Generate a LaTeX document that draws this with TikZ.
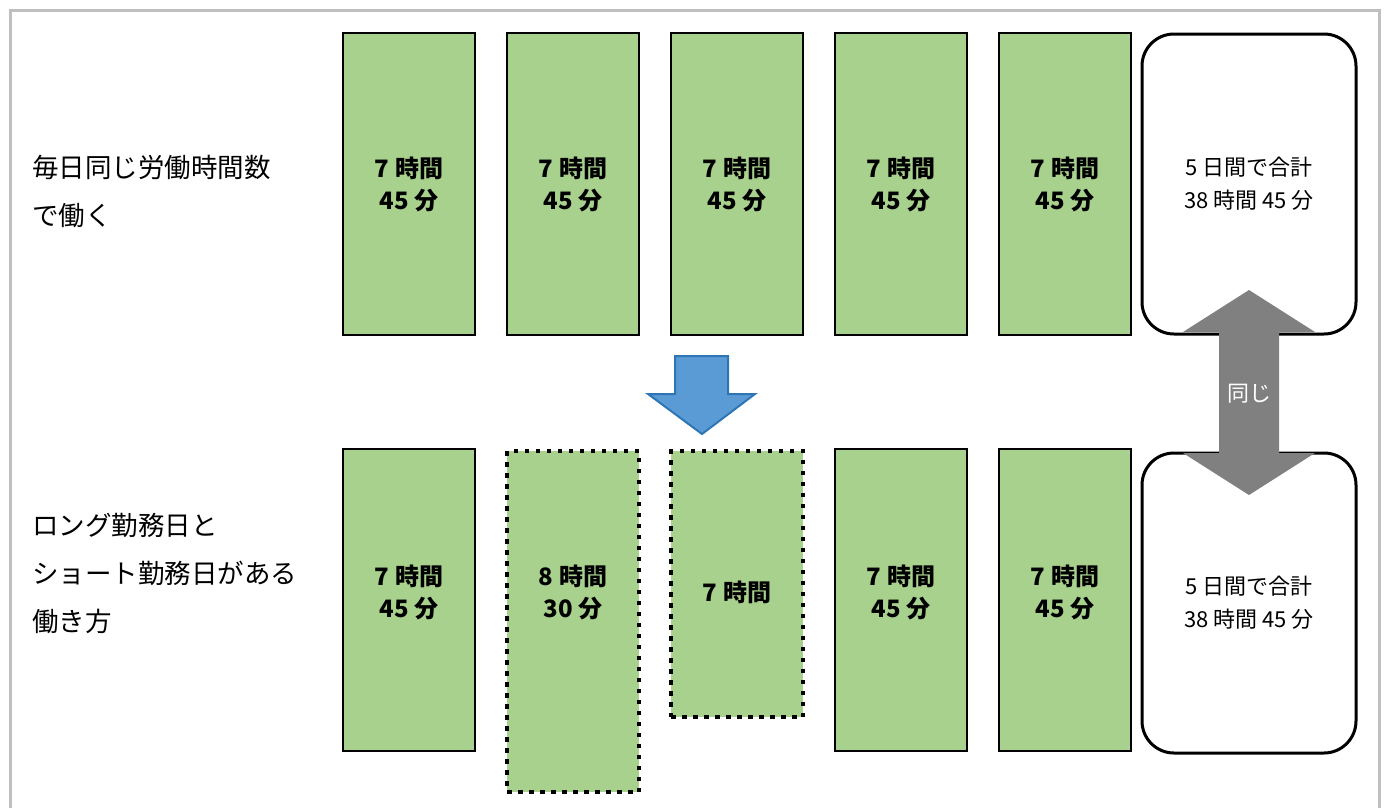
\documentclass[tikz,border=0pt]{standalone}
\usepackage{fontspec}
\setmainfont{Noto Sans CJK JP}
\usepackage{tikz}
\usetikzlibrary{positioning, calc}
\definecolor{daygreen}{RGB}{169, 209, 142}
\definecolor{arrowblue}{RGB}{91, 155, 213}
\definecolor{arrowedge}{RGB}{46, 117, 182}
\definecolor{samegray}{RGB}{128, 128, 128}
\definecolor{framegray}{RGB}{191, 191, 191}
\tikzset{
  daybox/.style={
    rectangle, inner sep=0pt, outer sep=0pt,
    minimum width=132pt, minimum height=302pt,
    align=center, font=\fontsize{24}{32}\selectfont\bfseries,
    draw=black, fill=daygreen, line width=2.5pt
  },
  changedbox/.style={
    daybox, line width=4.5pt, dash pattern=on 4.5pt off 6.5pt
  },
  daytext/.style={
    align=center, font=\fontsize{24}{32}\selectfont\bfseries
  },
  totalbox/.style={
    rectangle, rounded corners=32pt, inner sep=0pt, outer sep=0pt,
    minimum width=214pt, minimum height=300pt,
    align=center, font=\fontsize{22}{33}\selectfont,
    draw=black, fill=white, line width=3pt
  },
  rowlabel/.style={
    anchor=west, inner sep=0pt, align=left, font=\fontsize{26.5}{48}\selectfont
  },
  downarrow/.style={fill=arrowblue, draw=arrowedge, line width=2pt, line join=miter},
  samearrow/.style={fill=samegray}
}

\begin{document}
\begin{tikzpicture}[x=1pt, y=-1pt]

  \useasboundingbox (0,0) rectangle (1385,807);

  %% — — — Frame — — —
  \draw[framegray, line width=3pt] (10,830) -- (10,10) -- (1379,10) -- (1379,830);

  %% — — — Row labels — — —
  \node[rowlabel] (lab1) at (32,191) {毎日同じ労働時間数\\で働く};
  \node[rowlabel] (lab2) at (32,573) {ロング勤務日と\\ショート勤務日がある\\働き方};

  %% — — — Top row — — —
  \node[daybox] (d1) at (409,184) {7 時間\\45 分};
  \node[daybox, right=32pt of d1] (d2) {7 時間\\45 分};
  \node[daybox, right=32pt of d2] (d3) {7 時間\\45 分};
  \node[daybox, right=32pt of d3] (d4) {7 時間\\45 分};
  \node[daybox, right=32pt of d4] (d5) {7 時間\\45 分};
  \node[totalbox, right=11pt of d5] (tot1) {5 日間で合計\\38 時間 45 分};

  %% — — — Bottom row — — —
  \node[daybox, below=114pt of d1] (b1) {};
  \node[changedbox, below=116pt of d2, minimum height=341pt] (b2) {};
  \node[changedbox, below=116pt of d3, minimum height=266pt] (b3) {};
  \node[daybox, below=114pt of d4] (b4) {};
  \node[daybox, below=114pt of d5] (b5) {};
  \node[totalbox, below=119pt of tot1] (tot2) {5 日間で合計\\38 時間 45 分};

  \coordinate (mid) at (0,592);
  \node[daytext] (t1) at (b1 |- mid) {7 時間\\45 分};
  \node[daytext] (t2) at (b2 |- mid) {8 時間\\30 分};
  \node[daytext] (t3) at (b3 |- mid) {7 時間};
  \node[daytext] (t4) at (b4 |- mid) {7 時間\\45 分};
  \node[daytext] (t5) at (b5 |- mid) {7 時間\\45 分};

  %% — — — Arrows — — —
  \coordinate (down) at (702,434);
  \draw[downarrow] (down) -- ++(-54,-40) -- ++(27,0) -- ++(0,-38)
    -- ++(53,0) -- ++(0,38) -- ++(27,0) -- cycle;

  \fill[samearrow] ($(tot1.south)+(0,-44)$) -- ++(66,42) -- ++(-36,0)
    -- ++(0,121) -- ++(36,0) -- ++(-66,42) -- ++(-66,-42) -- ++(36,0)
    -- ++(0,-121) -- ++(-36,0) -- cycle;
  \node[white, font=\fontsize{22}{26}\selectfont] (same)
    at ($(tot1.south)!0.5!(tot2.north)$) {同じ};

\end{tikzpicture}
\end{document}
